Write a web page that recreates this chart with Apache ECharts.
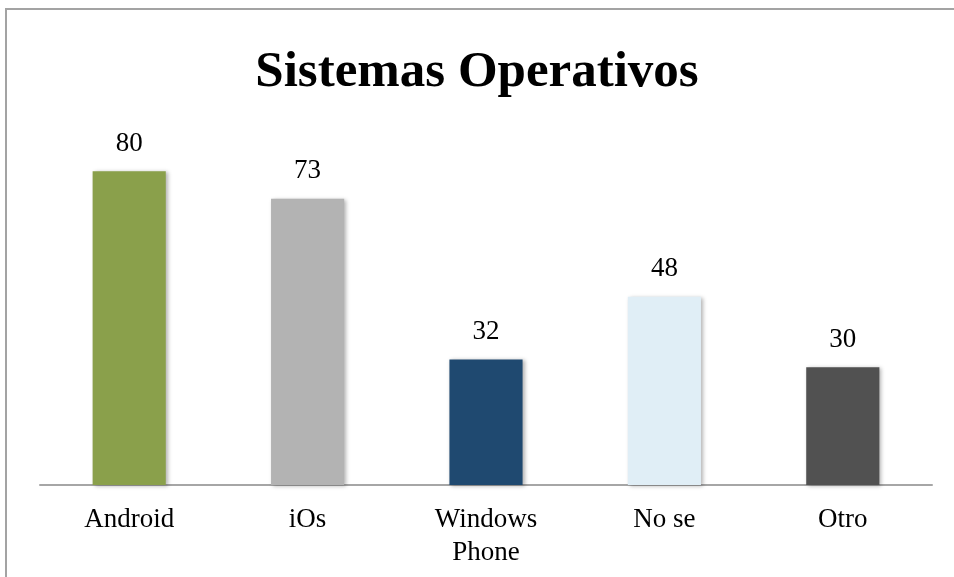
<!DOCTYPE html>
<html><head><meta charset="utf-8">
<script src="https://cdn.jsdelivr.net/npm/echarts@6/dist/echarts.min.js"></script>
<style>html,body{margin:0;padding:0;background:#fff}#c{width:954px;height:577px}</style>
</head><body><div id="c"></div>
<script>
const titleText = "Sistemas Operativos";
const categories = ["Android", "iOs", "Windows\nPhone", "No se", "Otro"];
const values = [80, 73, 32, 48, 30];
const barColors = ["#8aa04b", "#b3b3b3", "#1f4970", "#e0eef6", "#515151"];
const FONT = "Liberation Serif";

const chart = echarts.init(document.getElementById('c'));
chart.setOption({
  backgroundColor: '#fff',
  animation: false,
  title: {
    text: titleText, left: 'center', top: 42,
    textStyle: { fontFamily: FONT, fontWeight: 'bold', fontSize: 51, color: '#000' }
  },
  graphic: [{
    type: 'rect', shape: { x: 6, y: 9, width: 1000, height: 700 },
    style: { fill: 'none', stroke: '#a3a3a3', lineWidth: 2 }, silent: true
  }],
  grid: { left: 40, right: 22, top: 132, bottom: 92 },
  xAxis: {
    type: 'category', data: categories,
    axisLine: { lineStyle: { color: '#a6a6a6', width: 2 } },
    axisTick: { show: false },
    axisLabel: { margin: 18, fontFamily: FONT, fontSize: 27, color: '#000', lineHeight: 33 }
  },
  yAxis: { type: 'value', min: 0, max: 90, show: false, splitLine: { show: false } },
  series: [{
    type: 'bar', barWidth: '41%',
    data: values.map((v, i) => ({ value: v, itemStyle: { color: barColors[i] } })),
    itemStyle: { shadowBlur: 4, shadowColor: 'rgba(0,0,0,0.3)', shadowOffsetX: 2, shadowOffsetY: 1 },
    label: { show: true, position: 'top', distance: 14, fontFamily: FONT, fontSize: 27, color: '#000' }
  }]
});
</script></body></html>
